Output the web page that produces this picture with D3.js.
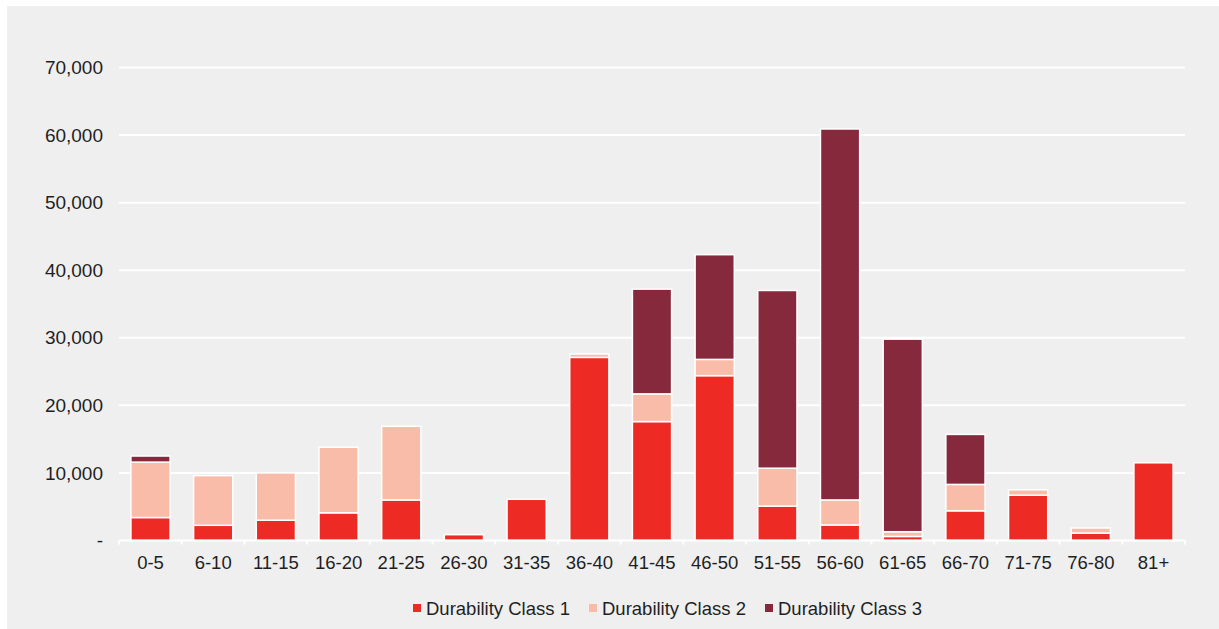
<!DOCTYPE html>
<html>
<head>
<meta charset="utf-8">
<script src="https://cdn.jsdelivr.net/npm/d3@7"></script>
<style>
  html, body { margin: 0; padding: 0; background: #ffffff; }
  svg { display: block; }
  text { font-family: "Liberation Sans", Arial, sans-serif; fill: #1f1f1f; }
</style>
</head>
<body>
<svg id="chart" width="1219" height="629"></svg>
<script>
// Age bands (years)
const ageBands = ["0-5","6-10","11-15","16-20","21-25","26-30","31-35","36-40","41-45",
  "46-50","51-55","56-60","61-65","66-70","71-75","76-80","81+"];

// Volume per durability class, by age band
const class1 = [3400, 2250, 3000, 4100, 6000, 860, 6100, 27100, 17600, 24400, 5100, 2300, 600, 4400, 6700, 1100, 11500];
const class2 = [8200, 7350, 7000, 9700, 10900, 0, 0, 500, 4100, 2400, 5600, 3700, 700, 3900, 800, 750, 0];
const class3 = [900, 0, 0, 0, 0, 0, 0, 0, 15500, 15500, 26300, 54900, 28500, 7400, 0, 0, 0];

const seriesNames = ["Durability Class 1", "Durability Class 2", "Durability Class 3"];
const seriesColors = ["#ee2a24", "#f9bca8", "#87293d"];
const yTicks = [0, 10000, 20000, 30000, 40000, 50000, 60000, 70000];

const svg = d3.select("#chart");
const W = 1219, H = 629;
const plot = { left: 119, right: 1185, top: 67.5, bottom: 540.5 };

// chart panel
svg.append("rect").attr("x", 7).attr("y", 6).attr("width", W - 7).attr("height", H - 6)
  .attr("fill", "#efefef");

const x = d3.scaleBand().domain(ageBands).range([plot.left, plot.right]).paddingInner(0.375).paddingOuter(0.19);
const y = d3.scaleLinear().domain([0, 70000]).range([plot.bottom, plot.top]);

// gridlines
svg.append("g").selectAll("line").data(yTicks.slice(1)).join("line")
  .attr("x1", plot.left).attr("x2", plot.right)
  .attr("y1", d => y(d)).attr("y2", d => y(d))
  .attr("stroke", "#ffffff").attr("stroke-width", 2);

// y axis labels
const fmt = d3.format(",");
const yAxis = svg.append("g").attr("transform", `translate(${plot.left},0)`)
  .call(d3.axisLeft(y).tickValues(yTicks).tickSize(0).tickPadding(16)
    .tickFormat(d => d === 0 ? "-" : fmt(d)));
yAxis.select(".domain").remove();
yAxis.selectAll("text").style("font-size", "19px").attr("fill", "#1f1f1f")
  .attr("font-family", "Liberation Sans, Arial, sans-serif");

// stacked bars
const rows = ageBands.map((b, i) => ({ band: b, c1: class1[i], c2: class2[i], c3: class3[i] }));
const stack = d3.stack().keys(["c1", "c2", "c3"])(rows);
svg.append("g").selectAll("g").data(stack).join("g")
  .attr("fill", (d, i) => seriesColors[i])
  .selectAll("rect").data(d => d.filter(s => s[1] - s[0] > 0)).join("rect")
  .attr("x", d => x(d.data.band))
  .attr("width", x.bandwidth())
  .attr("y", d => y(d[1]))
  .attr("height", d => y(d[0]) - y(d[1]))
  .attr("stroke", "#ffffff").attr("stroke-width", 1.5);

// category axis
const xAxis = svg.append("g").attr("transform", `translate(0,${plot.bottom})`)
  .call(d3.axisBottom(x).tickSize(0).tickPadding(15));
xAxis.select(".domain").remove();
xAxis.selectAll("text").style("font-size", "18.5px").attr("fill", "#1f1f1f")
  .attr("font-family", "Liberation Sans, Arial, sans-serif");
svg.append("line").attr("x1", plot.left).attr("x2", plot.right)
  .attr("y1", plot.bottom).attr("y2", plot.bottom)
  .attr("stroke", "#ffffff").attr("stroke-width", 2);
svg.append("g").selectAll("line").data(d3.range(ageBands.length + 1)).join("line")
  .attr("x1", i => plot.left + i * (plot.right - plot.left) / ageBands.length)
  .attr("x2", i => plot.left + i * (plot.right - plot.left) / ageBands.length)
  .attr("y1", plot.bottom).attr("y2", plot.bottom + 4)
  .attr("stroke", "#ffffff").attr("stroke-width", 2);

// legend
const legendX = [413, 589, 765];
const legend = svg.append("g").selectAll("g").data(seriesNames).join("g")
  .attr("transform", (d, i) => `translate(${legendX[i]},608)`);
legend.append("rect").attr("x", 0).attr("y", -4).attr("width", 8).attr("height", 8)
  .attr("fill", (d, i) => seriesColors[i]);
legend.append("text").attr("x", 13).attr("y", 7).style("font-size", "18.5px").text(d => d);
</script>
</body>
</html>
